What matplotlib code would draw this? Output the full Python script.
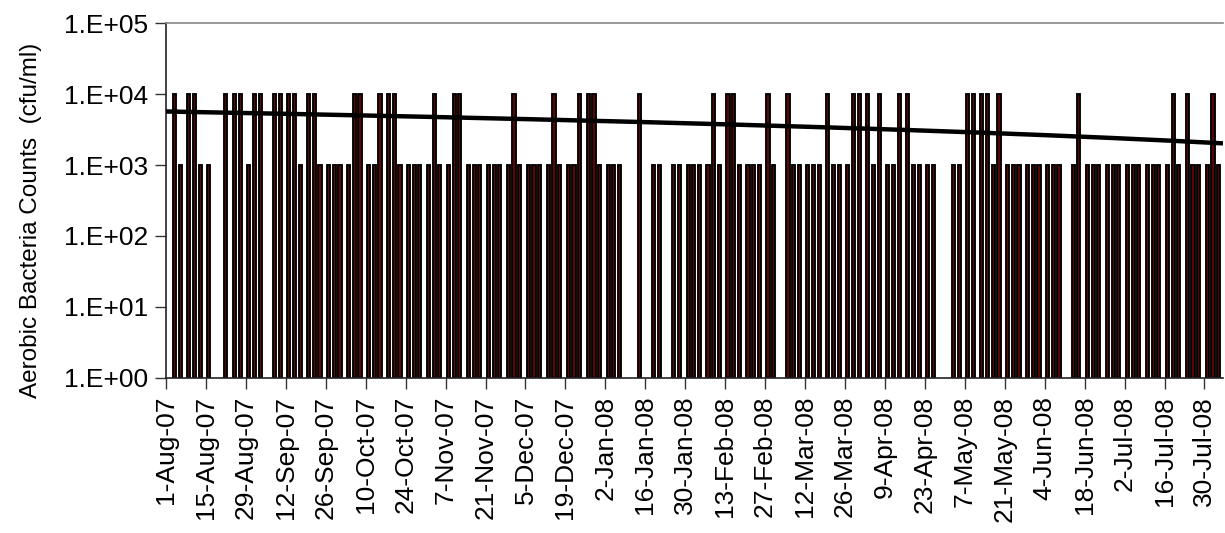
import matplotlib
matplotlib.use("Agg")
import matplotlib.pyplot as plt
import numpy as np
import pandas as pd

plt.rcParams['font.family'] = ['Liberation Sans', 'DejaVu Sans']

# ---- data -------------------------------------------------------------
start_date = "2007-08-01"
# sampling day offsets from start_date
sample_day = [3, 5, 8, 10, 12, 15, 21, 24, 26, 29, 31, 33, 38, 40, 43, 45, 47, 50, 52, 54,
              57, 59, 61, 64, 66, 68, 71, 73, 75, 78, 80, 82, 85, 87, 89, 92,
              94, 96, 99, 101, 103, 106, 108, 110, 113, 115, 117, 120, 122, 124, 127, 129,
              131, 134, 136, 138, 141, 143, 145, 148, 150, 152, 155, 157, 159, 166, 171, 173,
              178, 180, 183,
              185, 187, 190, 192, 194, 197, 199, 201, 204, 206, 208, 211, 213, 218, 220, 222,
              225, 227, 229, 232, 234, 236, 239, 241, 243, 246, 248, 250, 253, 255, 257, 260,
              262, 264, 267, 269,
              276, 278, 281, 283, 286, 288, 290, 292, 295, 297, 299, 302, 304, 306, 309, 311,
              313, 318, 320, 323, 325, 327, 330, 332, 334, 337, 339, 341, 344, 346, 348, 351,
              353, 355, 358, 360, 362, 365, 367, 369]
counts = [10000, 1000, 10000, 10000, 1000, 1000, 10000, 10000, 10000, 1000, 10000, 10000,
          10000, 10000, 10000, 10000, 1000, 10000, 10000, 1000, 1000, 1000, 1000, 1000,
          10000, 10000, 1000, 1000, 10000, 10000, 10000, 1000, 1000, 1000, 1000, 1000,
          10000, 1000, 1000, 10000, 10000, 1000, 1000, 1000, 1000, 1000, 1000, 1000,
          10000, 1000, 1000, 1000, 1000, 1000, 10000, 1000, 1000, 1000, 10000, 10000,
          10000, 1000, 1000, 1000, 1000, 10000, 1000, 1000, 1000, 1000, 1000,
          1000, 1000, 1000, 10000, 1000, 10000, 10000, 1000, 1000, 1000, 1000, 10000,
          1000, 10000, 1000, 1000, 1000, 1000, 1000, 10000, 1000, 1000, 1000, 10000,
          10000, 10000, 1000, 10000, 1000, 1000, 10000, 10000, 1000, 1000, 1000, 1000,
          1000, 1000, 10000, 10000, 10000, 10000, 1000, 10000, 1000, 1000, 1000, 1000,
          1000, 1000, 1000, 1000, 1000, 1000, 10000, 1000, 1000, 1000, 1000, 1000,
          1000, 1000, 1000, 1000, 1000, 1000, 1000, 1000, 10000, 1000, 10000, 1000,
          1000, 1000, 10000, 1000]

# linear trend line: value at start and slope per day
trend_start = 5700.0
trend_slope = -9.92

y_ticks = [1, 10, 100, 1000, 10000, 100000]
y_tick_labels = ["1.E+00", "1.E+01", "1.E+02", "1.E+03", "1.E+04", "1.E+05"]
x_tick_step_days = 14
x_tick_last_day = 364
x_end_day = 370.5

# ---- plot -------------------------------------------------------------
t0 = pd.Timestamp(start_date)
fig = plt.figure(figsize=(12.25, 5.33), dpi=100)
ax = fig.add_axes([166 / 1225, 1 - 377.7 / 533, (1223 - 166) / 1225, (377.7 - 23.3) / 533])

ax.bar(sample_day, counts, width=1.1, bottom=1, color="#5c0505",
       edgecolor="black", linewidth=1.35, zorder=2)

tx = np.linspace(0, x_end_day, 200)
ax.plot(tx, trend_start + trend_slope * tx, color="black", lw=3.2, zorder=3,
        solid_capstyle="butt")

ax.set_yscale("log")
ax.set_ylim(1, 100000)
ax.set_xlim(0, x_end_day)
ax.set_yticks(y_ticks)
ax.set_yticklabels(y_tick_labels)
ax.yaxis.set_minor_locator(matplotlib.ticker.NullLocator())

xt = list(range(0, x_tick_last_day + 1, x_tick_step_days))
xl = []
for d in xt:
    dt = t0 + pd.Timedelta(days=d)
    xl.append(f"{dt.day}-{dt.strftime('%b-%y')}")
ax.set_xticks(xt)
ax.set_xticklabels(xl, rotation=90)

ax.tick_params(axis="both", labelsize=19, length=8, width=1.0, direction="out",
               color="#333333", pad=5)
ax.set_ylabel("Aerobic Bacteria Counts  (cfu/ml)", fontsize=17.5)
ax.yaxis.set_label_coords((42 - 166) / 1057, (377.7 - 220) / 354.4)

for s in ["left", "bottom"]:
    ax.spines[s].set_color("#222222")
    ax.spines[s].set_linewidth(1.2)
ax.spines["top"].set_color("#888888")
ax.spines["top"].set_linewidth(1.2)
ax.spines["right"].set_visible(False)

fig.savefig("out.png", dpi=100)
